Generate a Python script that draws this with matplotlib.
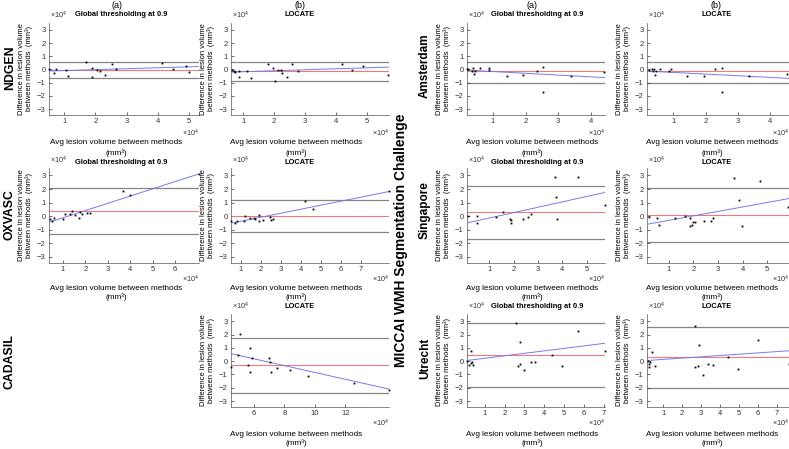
import matplotlib
matplotlib.use('Agg')
import matplotlib.pyplot as plt
import numpy as np

plt.rcParams['font.family'] = ['Liberation Sans', 'DejaVu Sans']
plt.rcParams['mathtext.fontset'] = 'custom'
plt.rcParams['mathtext.rm'] = 'Liberation Sans'
plt.rcParams['mathtext.it'] = 'Liberation Sans:italic'
plt.rcParams['mathtext.bf'] = 'Liberation Sans:bold'

W, H = 789, 449

# ---------------- data (volumes in units of 1e4 mm^3) ----------------
ndgen_gt_avg = [0.52, 0.67, 0.75, 1.07, 1.13, 1.70, 1.88, 1.88, 2.06, 2.14, 2.32, 2.52, 2.67, 4.14, 4.50, 4.90, 5.00]
ndgen_gt_diff = [0.02, -0.30, 0.00, -0.07, -0.50, 0.55, 0.12, -0.60, -0.05, -0.10, -0.45, 0.42, 0.02, 0.52, 0.02, 0.25, -0.18]
ndgen_gt_bias, ndgen_gt_loa = -0.05, (0.57, -0.67)
ndgen_gt_fit = (0.071, -0.156)          # slope, intercept
ndgen_gt_xlim = (0.51, 5.32)

ndgen_lc_avg = [0.62, 0.69, 0.74, 0.85, 0.85, 1.12, 1.25, 1.81, 1.95, 2.03, 2.12, 2.21, 2.27, 2.41, 2.57, 2.78, 4.20, 4.53, 4.88, 5.70]
ndgen_lc_diff = [-0.05, -0.12, -0.20, -0.08, -0.55, -0.08, -0.65, 0.40, 0.08, -0.88, -0.05, -0.05, -0.30, -0.58, 0.38, -0.15, 0.45, -0.05, 0.25, -0.45]
ndgen_lc_bias, ndgen_lc_loa = -0.14, (0.60, -0.88)
ndgen_lc_fit = (0.074, -0.244)
ndgen_lc_xlim = (0.60, 5.73)

oxvasc_gt_avg = [0.40, 0.50, 0.62, 1.00, 1.10, 1.30, 1.42, 1.55, 1.70, 1.78, 1.85, 2.06, 2.20, 3.70, 3.97, 7.05]
oxvasc_gt_diff = [-0.24, -0.36, -0.10, -0.19, 0.14, 0.19, 0.36, 0.10, -0.10, 0.33, 0.14, 0.24, 0.24, 1.86, 1.55, 3.12]
oxvasc_gt_bias, oxvasc_gt_loa = 0.40, (2.10, -1.30)
oxvasc_gt_fit = (0.533, -0.650)
oxvasc_gt_xlim = (0.375, 7.07)

oxvasc_lc_avg = [0.50, 0.68, 0.80, 1.17, 1.22, 1.47, 1.67, 1.68, 1.88, 1.92, 2.12, 2.45, 2.50, 2.58, 4.20, 4.58, 8.38]
oxvasc_lc_diff = [-0.35, -0.52, -0.38, -0.35, -0.02, -0.17, -0.12, -0.20, 0.08, -0.35, -0.25, -0.08, -0.30, -0.20, 1.10, 0.55, 1.82]
oxvasc_lc_bias, oxvasc_lc_loa = 0.00, (1.20, -1.18)
oxvasc_lc_fit = (0.296, -0.668)
oxvasc_lc_xlim = (0.50, 8.40)

cadasil_lc_avg = [4.51, 4.95, 5.06, 5.60, 5.74, 5.74, 5.90, 7.00, 7.09, 7.14, 7.53, 8.34, 9.54, 12.56, 14.85]
cadasil_lc_diff = [-0.45, 0.50, 2.08, -0.30, -0.78, 1.02, 0.22, 0.22, -0.05, -0.78, -0.55, -0.68, -1.12, -1.68, -2.15]
cadasil_lc_bias, cadasil_lc_loa = -0.30, (1.78, -2.40)
cadasil_lc_fit = (-0.257, 1.722)
cadasil_lc_xlim = (4.50, 14.87)

amst_gt_avg = [0.20, 0.24, 0.36, 0.38, 0.41, 0.44, 0.59, 0.87, 0.89, 1.42, 1.92, 2.36, 2.52, 2.54, 3.38, 4.42]
amst_gt_diff = [0.05, 0.00, -0.08, 0.12, -0.35, -0.10, 0.12, -0.05, 0.10, -0.50, -0.40, -0.10, 0.20, -1.70, -0.50, -0.20]
amst_gt_bias, amst_gt_loa = -0.15, (0.60, -1.00)
amst_gt_fit = (-0.134, -0.023)
amst_gt_xlim = (0.20, 4.44)

amst_lc_avg = [0.25, 0.32, 0.37, 0.40, 0.42, 0.45, 0.58, 0.87, 0.91, 1.43, 1.95, 2.28, 2.50, 2.50, 3.36, 4.53]
amst_lc_diff = [-0.05, 0.05, -0.10, 0.05, -0.40, -0.10, 0.07, -0.10, 0.03, -0.52, -0.47, 0.00, 0.10, -1.70, -0.52, -0.35]
amst_lc_bias, amst_lc_loa = -0.15, (0.57, -1.00)
amst_lc_fit = (-0.125, -0.100)
amst_lc_xlim = (0.18, 4.59)

sing_gt_avg = [0.13, 0.52, 0.52, 1.29, 1.56, 1.86, 1.89, 1.89, 2.38, 2.61, 2.72, 3.68, 3.76, 3.79, 4.63, 5.73]
sing_gt_diff = [0.02, -0.02, -0.48, -0.08, 0.28, -0.18, -0.52, -0.30, -0.18, -0.05, 0.18, 2.90, 1.45, -0.22, 2.90, 0.82]
sing_gt_bias, sing_gt_loa = 0.28, (2.22, -1.68)
sing_gt_fit = (0.3975, -0.536)
sing_gt_xlim = (0.09, 5.75)

sing_lc_avg = [0.19, 0.54, 0.61, 1.24, 1.68, 1.85, 1.88, 1.95, 2.00, 2.07, 2.44, 2.71, 2.80, 3.66, 3.84, 3.97, 4.72, 5.82]
sing_lc_diff = [-0.08, -0.10, -0.65, -0.12, 0.00, -0.15, -0.75, -0.62, -0.40, -0.40, -0.38, -0.35, -0.10, 2.82, 1.20, -0.70, 2.58, 0.70]
sing_lc_bias, sing_lc_loa = 0.10, (2.05, -1.87)
sing_lc_fit = (0.330, -0.640)
sing_lc_xlim = (0.12, 5.88)

utr_gt_avg = [0.11, 0.22, 0.32, 0.33, 0.38, 0.43, 2.55, 2.68, 2.77, 2.78, 2.97, 3.35, 3.52, 4.36, 4.90, 5.70, 7.03]
utr_gt_diff = [-0.02, -0.28, -0.15, 0.78, -0.08, -0.30, 2.85, -0.40, 1.48, -0.22, -0.70, -0.10, -0.10, 0.50, -0.40, 2.30, 0.75]
utr_gt_bias, utr_gt_loa = 0.45, (2.90, -1.98)
utr_gt_fit = (0.187, 0.030)
utr_gt_xlim = (0.11, 7.05)

utr_lc_avg = [0.20, 0.25, 0.27, 0.32, 0.41, 0.55, 2.67, 2.69, 2.83, 2.88, 3.10, 3.35, 3.60, 4.43, 4.95, 5.98, 7.60]
utr_lc_diff = [0.00, -0.45, -0.25, -0.08, 0.72, -0.38, 2.65, -0.45, -0.38, 1.25, -1.02, -0.18, -0.30, 0.30, -0.60, 1.60, -0.18]
utr_lc_bias, utr_lc_loa = 0.28, (2.58, -2.02)
utr_lc_fit = (0.098, 0.035)
utr_lc_xlim = (0.15, 7.62)

titles = ['Global thresholding at 0.9', 'LOCATE']
col_labels = ['(a)', '(b)', '(a)', '(b)']
row_labels_left = ['NDGEN', 'OXVASC', 'CADASIL']
row_labels_right = ['Amsterdam', 'Singapore', 'Utrecht']
group_label = 'MICCAI WMH Segmentation Challenge'
ylab = 'Difference in lesion volume\nbetween methods  (mm³)'
xlab1 = 'Avg lesion volume between methods'
xlab2 = '(mm³)'
yticks = [-3, -2, -1, 0, 1, 2, 3]

# ---------------- layout (pixels) ----------------
cols = [(49, 199), (231, 389), (467, 605), (647, 789)]
rows = [(22.6, 115), (168, 263), (314, 407)]
title_y = [15, 163, 307]
xlab_y = [(143, 153), (288, 297), (434, 443)]
exp_y = [133, 279, 423]
xlab_cx = [116, 296, 532, 712]
title_cx = [121, 300, 537, 717]

GRAY = '#858585'
RED = '#ec7b7d'
BLUE = '#7a78f0'

fig = plt.figure(figsize=(W / 100, H / 100), dpi=100)


def fx(x):
    return x / W


def fy(y):
    return 1 - y / H


def panel(r, c, avg, diff, bias, loa, fit, xlim, xticks):
    (l, rr), (t, b) = cols[c], rows[r]
    ax = fig.add_axes([fx(l), fy(b), fx(rr - l), (b - t) / H])
    ax.axhline(loa[0], color=GRAY, lw=0.9, zorder=1)
    ax.axhline(loa[1], color=GRAY, lw=0.9, zorder=1)
    ax.axhline(bias, color=RED, lw=0.8, zorder=2)
    xs = np.array(xlim)
    ax.plot(xs, fit[1] + fit[0] * xs, color=BLUE, lw=0.7, zorder=3)
    ax.plot(avg, diff, 's', color='black', ms=1.3, mew=0, zorder=4, clip_on=False)
    ax.set_xlim(*xlim)
    ax.set_ylim(-3.45, 3.55)
    ax.set_yticks(yticks)
    ax.set_xticks(xticks)
    for s in ['top', 'right']:
        ax.spines[s].set_visible(False)
    for s in ['left', 'bottom']:
        ax.spines[s].set_color('#555555')
        ax.spines[s].set_linewidth(0.5)
    ax.tick_params(direction='in', length=2, width=0.5, labelsize=5.5, pad=2.5,
                   colors='#333333')
    ax.set_ylabel(ylab, fontsize=5.5, labelpad=3, linespacing=1.0)
    fig.text(fx(l + 1), fy(t - 2), r'$\times10^{4}$', fontsize=5.2,
             ha='left', va='bottom', color='#333333')
    fig.text(fx(rr), fy(exp_y[r]), r'$\times10^{4}$', fontsize=5.2,
             ha='right', va='center', color='#333333')
    fig.text(fx(title_cx[c]), fy(title_y[r]), titles[c % 2], fontsize=5.4,
             fontweight='bold', ha='center', va='center')
    fig.text(fx(xlab_cx[c]), fy(xlab_y[r][0]), xlab1, fontsize=5.9,
             ha='center', va='center')
    fig.text(fx(xlab_cx[c]), fy(xlab_y[r][1]), xlab2, fontsize=5.9,
             ha='center', va='center')
    return ax


panel(0, 0, ndgen_gt_avg, ndgen_gt_diff, ndgen_gt_bias, ndgen_gt_loa, ndgen_gt_fit, ndgen_gt_xlim, [1, 2, 3, 4, 5])
panel(0, 1, ndgen_lc_avg, ndgen_lc_diff, ndgen_lc_bias, ndgen_lc_loa, ndgen_lc_fit, ndgen_lc_xlim, [1, 2, 3, 4, 5])
panel(1, 0, oxvasc_gt_avg, oxvasc_gt_diff, oxvasc_gt_bias, oxvasc_gt_loa, oxvasc_gt_fit, oxvasc_gt_xlim, [1, 2, 3, 4, 5, 6])
panel(1, 1, oxvasc_lc_avg, oxvasc_lc_diff, oxvasc_lc_bias, oxvasc_lc_loa, oxvasc_lc_fit, oxvasc_lc_xlim, [1, 2, 3, 4, 5, 6, 7])
panel(2, 1, cadasil_lc_avg, cadasil_lc_diff, cadasil_lc_bias, cadasil_lc_loa, cadasil_lc_fit, cadasil_lc_xlim, [6, 8, 10, 12])
panel(0, 2, amst_gt_avg, amst_gt_diff, amst_gt_bias, amst_gt_loa, amst_gt_fit, amst_gt_xlim, [1, 2, 3, 4])
panel(0, 3, amst_lc_avg, amst_lc_diff, amst_lc_bias, amst_lc_loa, amst_lc_fit, amst_lc_xlim, [1, 2, 3, 4])
panel(1, 2, sing_gt_avg, sing_gt_diff, sing_gt_bias, sing_gt_loa, sing_gt_fit, sing_gt_xlim, [1, 2, 3, 4, 5])
panel(1, 3, sing_lc_avg, sing_lc_diff, sing_lc_bias, sing_lc_loa, sing_lc_fit, sing_lc_xlim, [1, 2, 3, 4, 5])
panel(2, 2, utr_gt_avg, utr_gt_diff, utr_gt_bias, utr_gt_loa, utr_gt_fit, utr_gt_xlim, [1, 2, 3, 4, 5, 6, 7])
panel(2, 3, utr_lc_avg, utr_lc_diff, utr_lc_bias, utr_lc_loa, utr_lc_fit, utr_lc_xlim, [1, 2, 3, 4, 5, 6, 7])

# column labels
for cx, lab in zip([117, 300, 532, 716], col_labels):
    fig.text(fx(cx), fy(5.5), lab, fontsize=6.5, ha='center', va='center')

# row labels
for cy, lab in zip([68, 215, 362], row_labels_left):
    fig.text(fx(10), fy(cy), lab, fontsize=8.8, fontweight='bold', rotation=90,
             ha='center', va='center')
for cy, lab in zip([66, 210, 358], row_labels_right):
    fig.text(fx(425), fy(cy), lab, fontsize=8.5, fontweight='bold', rotation=90,
             ha='center', va='center')
fig.text(fx(401), fy(240), group_label, fontsize=10, fontweight='bold',
         rotation=90, ha='center', va='center')

fig.savefig('out.png', dpi=100)
